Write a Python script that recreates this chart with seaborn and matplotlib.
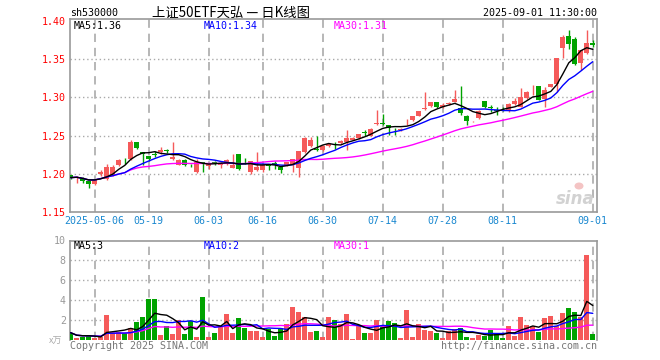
import numpy as np
import pandas as pd
import matplotlib
matplotlib.use("Agg")
import matplotlib.pyplot as plt
from matplotlib.patches import Ellipse
import seaborn as sns

# ---------------- data ----------------
opens = [1.198, 1.194, 1.195, 1.190, 1.186, 1.1991, 1.1934, 1.1978, 1.211, 1.2185,
         1.220, 1.241, 1.229, 1.223, 1.2254, 1.228, 1.231, 1.2197, 1.211, 1.2184,
         1.2114, 1.2022, 1.2154, 1.2096, 1.2148, 1.211, 1.2132, 1.2079, 1.2254, 1.2156,
         1.2022, 1.2044, 1.2044, 1.2110, 1.2140, 1.2088, 1.211, 1.211, 1.2079, 1.2281,
         1.236, 1.2320, 1.2307, 1.2360, 1.2408, 1.2408, 1.2417, 1.2447, 1.2469, 1.2548,
         1.2500, 1.2649, 1.2663, 1.2636, 1.2575, 1.2570, 1.2690, 1.2702, 1.2754, 1.2842,
         1.2886, 1.2939, 1.2868, 1.2910, 1.2939, 1.2864, 1.2759, 1.2689, 1.2724, 1.2952,
         1.2877, 1.2830, 1.2838, 1.2820, 1.2912, 1.2877, 1.2987, 1.3080, 1.3149, 1.2978,
         1.3140, 1.3171, 1.3645, 1.3807, 1.3768, 1.3447, 1.3579, 1.3711]
highs = [1.199, 1.197, 1.196, 1.191, 1.193, 1.2053, 1.2123, 1.211, 1.219, 1.221,
         1.2447, 1.242, 1.229, 1.223, 1.230, 1.235, 1.2325, 1.2417, 1.2197, 1.2197,
         1.213, 1.2197, 1.2160, 1.2140, 1.2165, 1.2150, 1.2197, 1.2254, 1.2260, 1.2206,
         1.2170, 1.2280, 1.2120, 1.2132, 1.2167, 1.2092, 1.2158, 1.2197, 1.2300, 1.2480,
         1.2482, 1.2491, 1.2373, 1.2405, 1.2417, 1.2440, 1.2579, 1.2478, 1.2525, 1.2570,
         1.2600, 1.2833, 1.2785, 1.2640, 1.2605, 1.2595, 1.2719, 1.2760, 1.2825, 1.3070,
         1.2945, 1.2945, 1.2930, 1.2935, 1.3097, 1.3149, 1.2765, 1.2697, 1.2833, 1.2955,
         1.2899, 1.2877, 1.2870, 1.2925, 1.2996, 1.3118, 1.3080, 1.3162, 1.3155, 1.3140,
         1.3180, 1.3522, 1.3811, 1.3886, 1.3786, 1.3625, 1.3886, 1.3755]
lows = [1.193, 1.188, 1.188, 1.182, 1.185, 1.1965, 1.1921, 1.1970, 1.210, 1.2132,
        1.2184, 1.233, 1.211, 1.2167, 1.2215, 1.2263, 1.2272, 1.2184, 1.211, 1.2096,
        1.2088, 1.2009, 1.2022, 1.2060, 1.2120, 1.2079, 1.2120, 1.2070, 1.2053, 1.2132,
        1.2000, 1.2035, 1.2030, 1.2053, 1.2061, 1.2009, 1.2105, 1.2022, 1.1956, 1.2270,
        1.2350, 1.2298, 1.2300, 1.2355, 1.2329, 1.2395, 1.2307, 1.2440, 1.2460, 1.2500,
        1.2495, 1.2640, 1.2640, 1.2505, 1.2505, 1.2565, 1.2645, 1.2695, 1.2750, 1.2835,
        1.2880, 1.2860, 1.2860, 1.2905, 1.2935, 1.2768, 1.2645, 1.2680, 1.2711, 1.2855,
        1.2803, 1.2768, 1.2820, 1.2810, 1.2905, 1.2870, 1.2980, 1.3031, 1.2960, 1.2877,
        1.3135, 1.3066, 1.3522, 1.3636, 1.3425, 1.3360, 1.3566, 1.3654]
closes = [1.195, 1.196, 1.191, 1.186, 1.192, 1.2022, 1.2088, 1.2088, 1.2175, 1.2175,
          1.2417, 1.234, 1.226, 1.219, 1.224, 1.2307, 1.2298, 1.222, 1.2184, 1.2118,
          1.211, 1.2154, 1.2123, 1.2132, 1.2142, 1.2140, 1.2175, 1.2118, 1.2066, 1.2150,
          1.2162, 1.2088, 1.2110, 1.2096, 1.2123, 1.2053, 1.2149, 1.2189, 1.2294, 1.2474,
          1.2447, 1.2307, 1.2360, 1.2395, 1.2400, 1.2425, 1.2469, 1.2469, 1.2518, 1.2539,
          1.2592, 1.2667, 1.2655, 1.2605, 1.2570, 1.2588, 1.2697, 1.2754, 1.2816, 1.2860,
          1.2939, 1.2868, 1.2903, 1.2925, 1.2974, 1.2790, 1.2689, 1.2693, 1.2820, 1.2877,
          1.2860, 1.2825, 1.2833, 1.2912, 1.2952, 1.3009, 1.3075, 1.3083, 1.2965, 1.3097,
          1.3171, 1.3513, 1.3785, 1.3697, 1.3434, 1.3623, 1.3711, 1.3680]
volumes = [0.73, 0.23, 0.33, 0.43, 0.23, 0.33, 2.5, 0.67, 0.83, 0.67,
           1.17, 1.77, 2.33, 4.1, 4.1, 0.5, 1.43, 0.6, 2.0, 0.6,
           1.93, 0.33, 4.3, 0.33, 0.73, 1.33, 2.6, 0.73, 2.23, 1.23,
           0.93, 0.93, 0.27, 1.07, 0.43, 1.17, 1.6, 3.33, 2.8, 2.33,
           0.83, 0.93, 0.27, 2.33, 2.0, 1.57, 2.6, 0.1, 1.43, 0.67,
           0.67, 2.0, 1.33, 1.9, 1.67, 0.23, 3.0, 0.33, 1.6, 1.0,
           0.93, 0.67, 0.23, 0.93, 1.1, 1.23, 0.33, 0.23, 0.5, 0.4,
           1.0, 0.57, 0.23, 1.43, 0.4, 2.33, 1.5, 1.4, 0.8, 2.17,
           2.4, 1.4, 2.67, 3.2, 2.77, 2.27, 8.5, 0.6]
tick_idx = [4, 13, 23, 32, 42, 52, 62, 72, 87]
tick_labels = ['2025-05-06', '05-19', '06-03', '06-16', '06-30',
               '07-14', '07-28', '08-11', '09-01']
price_ticks = [1.15, 1.20, 1.25, 1.30, 1.35, 1.40]
vol_ticks = [2, 4, 6, 8, 10]

# ---------------- style ----------------
sns.set_style("white")
plt.rcParams['font.family'] = ['DejaVu Sans Mono', 'Noto Sans CJK SC']

RED = '#F55A5A'
GREEN = '#00A300'
GRID = '#AAAAAA'
FRAME = '#999999'
MONO = ['DejaVu Sans Mono', 'Noto Sans CJK SC']
CJK = ['Noto Sans CJK SC', 'DejaVu Sans']

df = pd.DataFrame({'o': opens, 'h': highs, 'l': lows, 'c': closes, 'v': volumes})
df['i'] = np.arange(len(df))
df['up'] = df['c'] >= df['o']
for n in (5, 10, 30):
    df[f'ma{n}'] = df['c'].rolling(n, min_periods=1).mean()
    df[f'vma{n}'] = df['v'].rolling(n, min_periods=1).mean()

W, H = 660, 360
fig = plt.figure(figsize=(6.6, 3.6), dpi=100)

def box(l, t, r, b):
    return [l / W, 1 - b / H, (r - l) / W, (b - t) / H]

ax = fig.add_axes(box(70, 19, 597, 212))
axv = fig.add_axes(box(70, 240.5, 597, 340))

xlim = (-0.12, 87.7)

# ---------------- price panel ----------------
colors = np.where(df['up'], RED, GREEN)
ax.vlines(df['i'], df['l'], df['h'], colors=colors, linewidth=1, zorder=3)
body_bottom = np.minimum(df['o'], df['c'])
body_h = np.maximum(np.abs(df['c'] - df['o']), 0.0005)
ax.bar(df['i'], body_h, bottom=body_bottom, width=0.82, color=colors,
       linewidth=0, zorder=4)

for n, col in ((30, '#FF00FF'), (10, '#0000FF'), (5, '#000000')):
    sns.lineplot(x=df['i'], y=df[f'ma{n}'], ax=ax, color=col, linewidth=1.0,
                 zorder=5, legend=False)

ax.set_xlim(*xlim)
ax.set_ylim(1.15, 1.4026)
for y in price_ticks[1:-1]:
    ax.axhline(y, color=GRID, linestyle=(0, (1, 2)), linewidth=1, zorder=1)
for x in tick_idx:
    ax.axvline(x, color=GRID, linestyle=(0, (5, 3.5)), linewidth=1.2, zorder=1)
ax.set_yticks(price_ticks)
ax.set_yticklabels([f'{v:.2f}' for v in price_ticks], color='#FF0000',
                   fontsize=7.2, family=MONO)
ax.set_xticks(tick_idx)
ax.set_xticklabels(tick_labels, color='#1A88D0', fontsize=7.2, family=MONO)
ax.tick_params(length=0, pad=3)
ax.set_xlabel('')
ax.set_ylabel('')
for s in ax.spines.values():
    s.set_color(FRAME)
    s.set_linewidth(1.2)

# ---------------- volume panel ----------------
axv.bar(df['i'], df['v'], width=0.82, color=colors, linewidth=0, zorder=3)
for n, col in ((30, '#FF00FF'), (10, '#0000FF'), (5, '#000000')):
    sns.lineplot(x=df['i'], y=df[f'vma{n}'], ax=axv, color=col, linewidth=1.0,
                 zorder=5, legend=False)
axv.set_xlim(*xlim)
axv.set_ylim(0, 10)
for y in vol_ticks[:-1]:
    axv.axhline(y, color=GRID, linestyle=(0, (1, 2)), linewidth=1, zorder=1)
for x in tick_idx:
    axv.axvline(x, color=GRID, linestyle=(0, (5, 3.5)), linewidth=1.2, zorder=1)
axv.set_yticks(vol_ticks)
axv.set_yticklabels([str(v) for v in vol_ticks], color='#999999',
                    fontsize=7.2, family=MONO)
axv.set_xticks([])
axv.tick_params(length=0, pad=3)
axv.set_xlabel('')
axv.set_ylabel('')
for s in axv.spines.values():
    s.set_color(FRAME)
    s.set_linewidth(1.2)
axv.spines['bottom'].set_visible(False)

# ---------------- texts ----------------
def t(x, y, s, **kw):
    kw.setdefault('fontsize', 7.2)
    kw.setdefault('family', MONO)
    kw.setdefault('va', 'center')
    fig.text(x / W, 1 - y / H, s, **kw)

t(70, 13, 'sh530000', color='black')
t(152, 12.5, '上证50ETF天弘 — 日K线图', color='black', fontsize=9.6, family=CJK)
t(597, 13, '2025-09-01 11:30:00', color='black', ha='right')

t(74, 26, 'MA5:1.36', color='black')
t(204, 26, 'MA10:1.34', color='#0000FF')
t(334, 26, 'MA30:1.31', color='#FF00FF')

t(74, 246, 'MA5:3', color='black')
t(204, 246, 'MA10:2', color='#0000FF')
t(334, 246, 'MA30:1', color='#FF00FF')

t(49, 341, 'x万', color='#AAAAAA', fontsize=6.5, family=CJK)
t(70, 346, 'Copyright 2025 SINA.COM', color='#777777')
t(597, 346, 'http://finance.sina.com.cn', color='#777777', ha='right')

# sina watermark
t(575, 199, 'sina', color='#D2D2D2', fontsize=12, family=['DejaVu Sans'],
  style='italic', weight='bold', ha='center')
fig.patches.append(Ellipse((579 / W, 1 - 186 / H), 9 / W, 7 / H,
                           transform=fig.transFigure, facecolor='#F4C4C4',
                           edgecolor='none', zorder=1))

fig.savefig('out.png', dpi=100, facecolor='white')
